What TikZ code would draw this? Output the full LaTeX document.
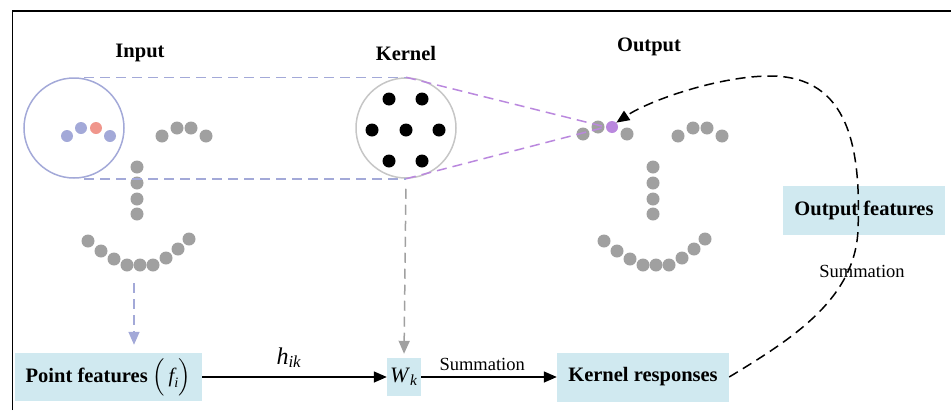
\documentclass[tikz,border=0pt]{standalone}
\usepackage{amsmath}
\usepackage{fontspec}
\setmainfont{Liberation Serif}
\usetikzlibrary{arrows.meta}

\definecolor{lav}{HTML}{A3A9D8}
\definecolor{reddot}{HTML}{F0968C}
\definecolor{violetdot}{HTML}{BA88DE}
\definecolor{boxblue}{HTML}{D0E9F0}
\definecolor{dotgray}{HTML}{A0A0A0}
\definecolor{rimgray}{HTML}{C6C6C6}

\begin{document}
\begin{tikzpicture}[x=1pt,y=-1pt,
    box/.style={fill=boxblue,inner sep=0pt,font=\bfseries\fontsize{20.5}{24}\selectfont},
    title/.style={font=\bfseries\fontsize{20.5}{24}\selectfont},
    lbl/.style={font=\fontsize{18.5}{22}\selectfont},
    dashline/.style={dash pattern=on 10pt off 6pt,line width=1.5pt},
    tip/.style={-{Triangle[length=13pt,width=11pt]}}]
    \useasboundingbox (0,0) rectangle (951,410);
    \draw[line width=1.2pt] (12.5,410) -- (12.5,11) -- (951,11);

    % titles
    \node[title] (tin) at (140,53) {Input};
    \node[title] (tker) at (406,53) {Kernel};
    \node[title] (tout) at (649,47) {Output};

    % neighbourhood and kernel
    \node[circle,draw=lav,line width=1.5pt,minimum size=100pt,inner sep=0pt] (incirc) at (74,128) {};
    \node[circle,draw=rimgray,line width=1.5pt,minimum size=100pt,inner sep=0pt] (kcirc) at (406,128) {};
    \foreach \x/\y in {389/99,422/99,372/130,406/130,439/130,389/161,422/161}
        \fill (\x,\y) circle (6.5pt);

    % point clouds
    \foreach \dx in {0,516} {
        \foreach \x/\y in {162/136,177/128,191/128,206/136,
                           137/167,137/183,137/199,137/214,
                           88/241,101/251,114/259,127/265,140/265,153/265,166/258,178/249,189/239}
            \fill[dotgray] (\x+\dx,\y) circle (6.5pt);
    }
    \fill[lav] (67,136) circle (6pt);
    \fill[lav] (81,128) circle (6pt);
    \fill[reddot] (96,128) circle (6pt);
    \fill[lav] (110,136) circle (6pt);
    \fill[dotgray] (583,134) circle (6.5pt);
    \fill[dotgray] (598,127) circle (6.5pt);
    \fill[dotgray] (627,134) circle (6.5pt);
    \node[circle,fill=violetdot,inner sep=0pt,minimum size=12pt] (opt) at (612,127) {};

    \draw[dashline,lav] ([xshift=10pt]incirc.north) -- (kcirc.north);
    \draw[dashline,lav] ([xshift=10pt]incirc.south) -- (kcirc.south);
    \draw[dashline,violetdot] (kcirc.north) -- (opt.west);
    \draw[dashline,violetdot] (kcirc.south) -- (opt.west);

    % boxes
    \node[box,minimum width=187pt,minimum height=48pt] (pf) at (108.5,377)
        {Point features $\Big(\,\text{\mdseries\itshape f}_{\text{\mdseries\itshape i}}\Big)$};
    \node[box,minimum width=34pt,minimum height=38pt,font=\fontsize{22}{26}\selectfont] (wk) at (404,377)
        {\textit{W}\textsubscript{\textit{k}}};
    \node[box,minimum width=172pt,minimum height=49pt] (kresp) at (643,377) {Kernel responses};
    \node[box,minimum width=162pt,minimum height=49pt] (ofeat) at (864,210) {Output features};
    \node[lbl] (sumb) at (862,271) {Summation};

    \coordinate (bstart) at (134,283);
    \draw[dashline,lav,tip,shorten >=8pt] (bstart) -- (bstart |- pf.north);
    \draw[dashline,dotgray,tip,shorten <=10pt,shorten >=4pt] (kcirc.south) -- (wk.north);

    \draw[line width=1.4pt,tip] (pf) -- (wk)
        node[pos=0.47,above=5pt,font=\fontsize{24}{28}\selectfont] {\textit{h}\textsubscript{\textit{ik}}};
    \draw[line width=1.4pt,tip] (wk) -- (kresp) node[pos=0.45,above=2pt,lbl] {Summation};

    \draw[dashline,tip] (kresp.east) .. controls (790,340) and (855,300) .. (858,230)
        .. controls (861,150) and (850,76) .. (770,76)
        .. controls (720,76) and (650,100) .. (opt.north east);
\end{tikzpicture}
\end{document}
